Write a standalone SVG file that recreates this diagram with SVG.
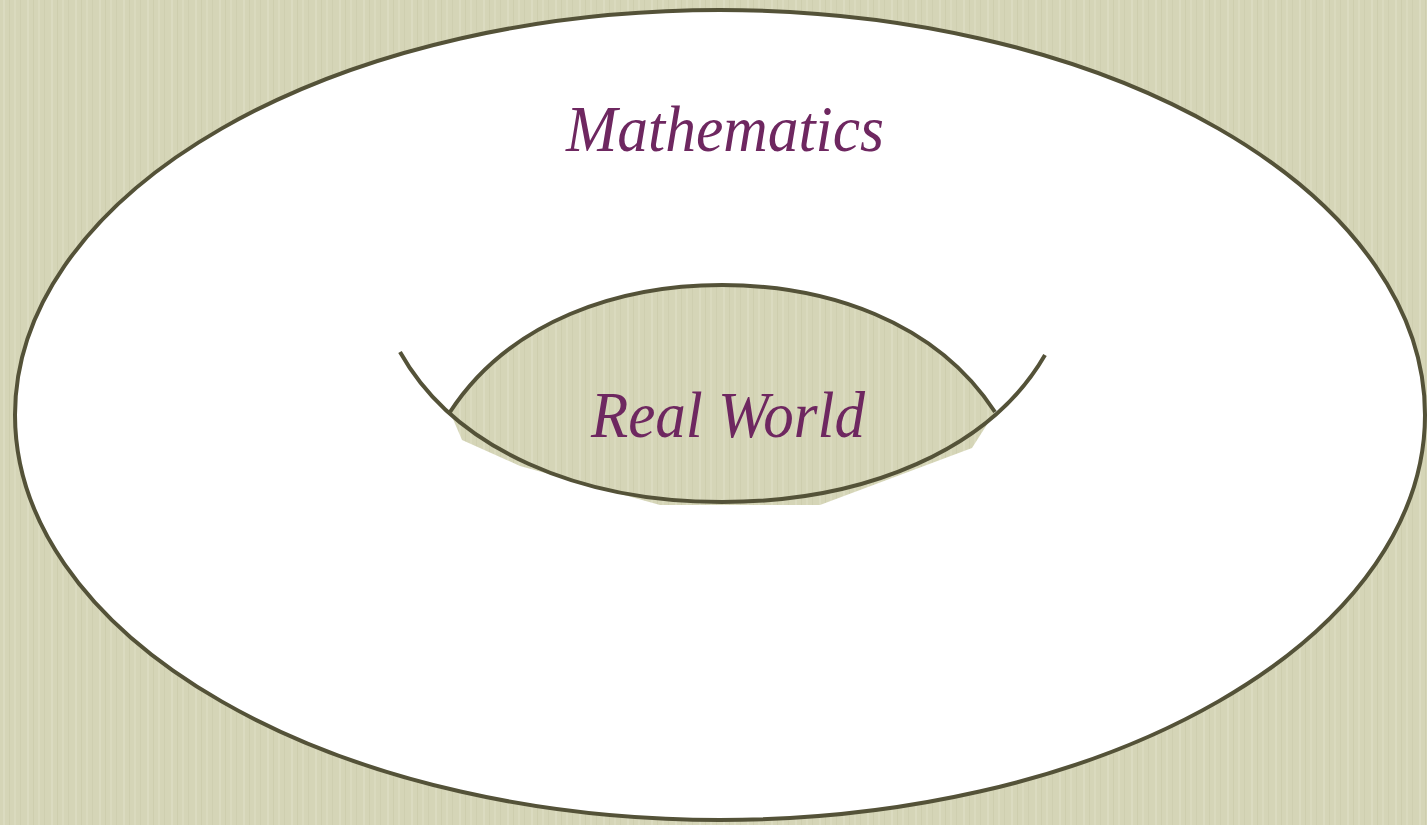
<svg xmlns="http://www.w3.org/2000/svg" width="1427" height="825" viewBox="0 0 1427 825">
  <defs>
    <pattern id="paper" x="0" y="0" width="24" height="825" patternUnits="userSpaceOnUse">
      <rect x="0" y="0" width="24" height="825" fill="#d5d5b7"/>
      <rect x="3" y="0" width="2" height="825" fill="#dfdfc4" opacity="0.7"/>
      <rect x="9" y="0" width="1" height="825" fill="#c9c9a9" opacity="0.6"/>
      <rect x="14" y="0" width="2" height="825" fill="#e0e0c6" opacity="0.5"/>
      <rect x="20" y="0" width="1" height="825" fill="#cbcbab" opacity="0.6"/>
    </pattern>
  </defs>
  <style>
    .line { fill: none; stroke: #545238; stroke-width: 4; stroke-linecap: butt; }
    .label { font-family: "Liberation Serif", "DejaVu Serif", serif; font-style: italic; fill: #6e2760; font-size: 66px; text-anchor: middle; }
  </style>
  <rect x="0" y="0" width="1427" height="825" fill="url(#paper)"/>
  <g id="mathematics">
    <ellipse cx="720" cy="415" rx="705" ry="405" fill="#ffffff" stroke="#545238" stroke-width="4"/>
    <text class="label" x="725" y="151" textLength="318" lengthAdjust="spacingAndGlyphs">Mathematics</text>
  </g>
  <g id="real-world">
    <path d="M450,412 C510,320 620,285 722,285 C825,285 935,320 995,412 L972,448 L820,505 L660,505 L520,466 L462,440 Z" fill="url(#paper)"/>
    <text class="label" x="728" y="437" textLength="274" lengthAdjust="spacingAndGlyphs">Real World</text>
  </g>
  <g id="connectors">
    <path class="line" d="M450,412 C510,320 620,285 722,285 C825,285 935,320 995,412"/>
    <path class="line" d="M400,352 C455,450 580,502 722,502 C865,502 990,450 1045,355"/>
  </g>
</svg>
